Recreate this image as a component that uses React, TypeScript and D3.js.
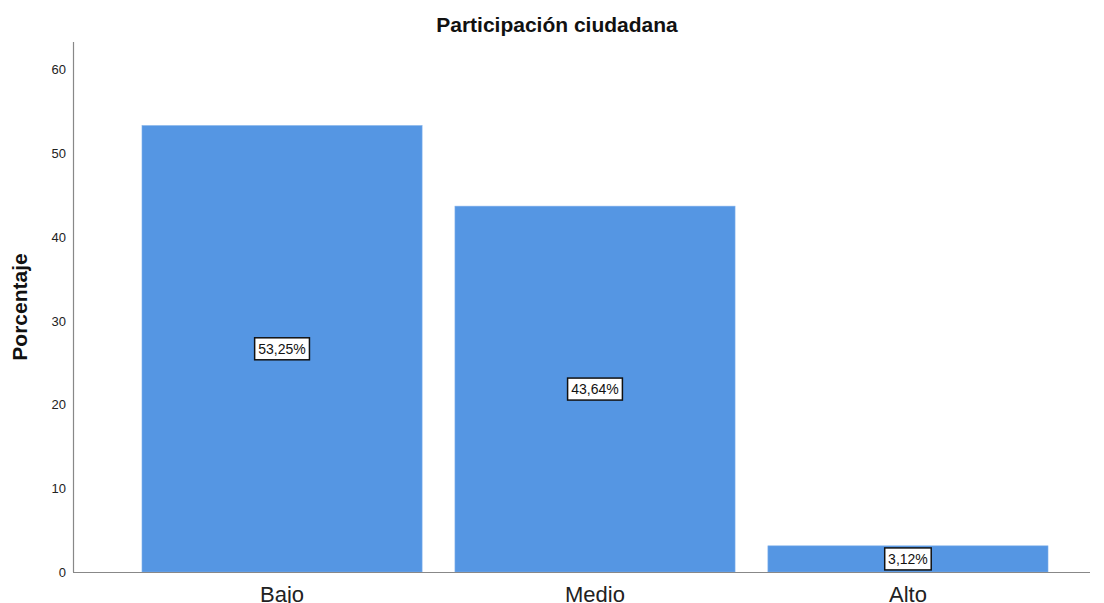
import React from 'react';
import * as d3 from 'd3';

const categories = ['Bajo', 'Medio', 'Alto'];
const values = [53.25, 43.64, 3.12];
const valueLabels = ['53,25%', '43,64%', '3,12%'];
const yTicks = [0, 10, 20, 30, 40, 50, 60];

const W = 1104;
const H = 603;
const font = 'Arial, "Liberation Sans", sans-serif';

export default function App() {
  const x = d3.scaleBand<string>()
    .domain(categories)
    .range([125.5, 1064.5])
    .paddingInner(0.105)
    .paddingOuter(0.0527);

  const y = d3.scaleLinear()
    .domain([0, 60])
    .range([572, 69]);

  const axisColor = '#888888';

  return (
    <svg width={W} height={H} style={{ position: 'absolute', left: 0, top: 0, background: '#fff' }}>
      <text x={557} y={32} textAnchor="middle" fontFamily={font} fontWeight="bold" fontSize={21} fill="#111">
        Participación ciudadana
      </text>

      {/* bars */}
      {categories.map((c, i) => (
        <rect
          key={c}
          x={x(c)}
          y={y(values[i])}
          width={x.bandwidth()}
          height={y(0) - y(values[i])}
          fill="#5596E3"
          stroke="#7fb0ea"
          strokeWidth={0.6}
        />
      ))}

      {/* y axis */}
      <line x1={73.5} x2={73.5} y1={42} y2={572} stroke={axisColor} strokeWidth={1.2} />
      {yTicks.map(t => (
        <text key={t} x={66} y={y(t) + 5} textAnchor="end" fontFamily={font} fontSize={13} fill="#222">
          {t}
        </text>
      ))}
      <text
        transform={`translate(27,307) rotate(-90)`}
        textAnchor="middle"
        fontFamily={font}
        fontWeight="bold"
        fontSize={21}
        fill="#111"
      >
        Porcentaje
      </text>

      {/* x axis */}
      <line x1={73} x2={1090} y1={572.5} y2={572.5} stroke={axisColor} strokeWidth={1.2} />
      {categories.map(c => (
        <text key={c} x={(x(c) ?? 0) + x.bandwidth() / 2} y={602} textAnchor="middle" fontFamily={font} fontSize={22} fill="#222">
          {c}
        </text>
      ))}

      {/* value labels */}
      {categories.map((c, i) => {
        const cx = (x(c) ?? 0) + x.bandwidth() / 2;
        const cy = y(values[i] / 2);
        const w = valueLabels[i].length * 8.3 + 5;
        return (
          <g key={c + '-lbl'}>
            <rect x={cx - w / 2} y={cy - 11} width={w} height={22} fill="#fff" stroke="#111" strokeWidth={1.5} />
            <text x={cx} y={cy + 5} textAnchor="middle" fontFamily={font} fontSize={14} fill="#111">
              {valueLabels[i]}
            </text>
          </g>
        );
      })}
    </svg>
  );
}
